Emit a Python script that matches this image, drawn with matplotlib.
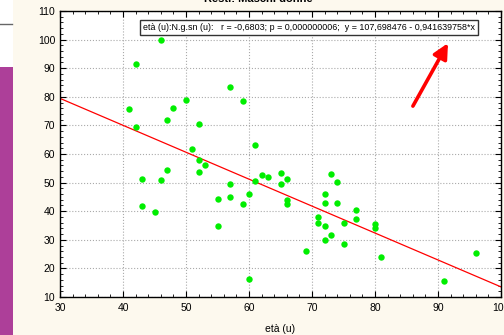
import matplotlib
matplotlib.use('Agg')
import matplotlib.pyplot as plt
from matplotlib.patches import Rectangle
from matplotlib.ticker import MultipleLocator
import numpy as np

plt.rcParams['font.family'] = ['Liberation Sans', 'DejaVu Sans']

# dati
eta = [41, 42, 42, 43, 43, 45, 46, 46, 47, 47, 48, 50, 51, 52, 52, 52, 53, 55, 55,
       57, 57, 57, 59, 59, 60, 60, 61, 61, 62, 63, 65, 65, 66, 66, 66, 69, 71, 71,
       72, 72, 72, 72, 73, 73, 74, 74, 75, 75, 77, 77, 80, 80, 81, 91, 96]
perc = [75.6, 91.6, 69.3, 51.3, 41.7, 39.6, 100.0, 50.9, 54.3, 71.9, 76.0, 79.0,
        61.6, 70.6, 57.9, 53.7, 56.3, 44.1, 34.7, 83.6, 49.4, 44.8, 78.7, 42.4,
        46.0, 16.3, 63.0, 50.5, 52.7, 52.0, 53.4, 49.4, 51.3, 43.8, 42.4, 26.0,
        38.1, 35.7, 46.0, 43.0, 34.7, 30.1, 53.0, 31.7, 50.3, 43.0, 36.0, 28.4,
        40.3, 37.3, 35.4, 34.0, 24.1, 15.7, 25.4]
intercetta = 107.698476
pendenza = -0.941639758
info = 'età (u):N.g.sn (u):   r = -0,6803; p = 0,000000006;  y = 107,698476 - 0,941639758*x'

fig = plt.figure(figsize=(5.04, 3.35), dpi=100)
fig.patch.set_facecolor('#fdf9ee')

# striscia a sinistra (resto dello screenshot)
fig.add_artist(Rectangle((0, 1 - 67/335), 13/504, 67/335, transform=fig.transFigure,
                         facecolor='white', edgecolor='none'))
fig.add_artist(Rectangle((0, 0), 13/504, 1 - 67/335, transform=fig.transFigure,
                         facecolor='#ad3f99', edgecolor='none'))
fig.add_artist(plt.Line2D([0, 12/504], [1 - 23.5/335, 1 - 23.5/335], transform=fig.transFigure,
                          color='#666666', lw=1))

ax = fig.add_axes([60/504, 1 - 297/335, 441/504, 286/335])
ax.set_facecolor('white')

xx = np.array([30, 100])
ax.plot(xx, intercetta + pendenza * xx, color='red', lw=0.9, zorder=2)
ax.plot(eta, perc, 'o', color='#00ee00', markersize=4.6, markeredgewidth=0, zorder=3)

ax.set_xlim(30, 100)
ax.set_ylim(10, 110)
ax.xaxis.set_major_locator(MultipleLocator(10))
ax.xaxis.set_minor_locator(MultipleLocator(2))
ax.yaxis.set_major_locator(MultipleLocator(10))
ax.yaxis.set_minor_locator(MultipleLocator(2))
ax.tick_params(which='both', direction='in', top=True, right=True, labelsize=7.5, colors='black')
ax.tick_params(which='major', length=4, width=0.8)
ax.tick_params(which='minor', length=2, width=0.6)
ax.tick_params(axis='x', pad=4)
ax.grid(True, which='major', ls=':', color='#aaaaaa', lw=0.8)
for s in ax.spines.values():
    s.set_linewidth(1)
ax.set_xlabel('età (u)', fontsize=7.5, labelpad=8)
ax.set_ylabel('%', fontsize=7.5, labelpad=18)

ax.text(0.565, 0.942, info, transform=ax.transAxes, ha='center', va='center', fontsize=6.4,
        bbox=dict(boxstyle='square,pad=0.35', facecolor='white', edgecolor='#333333', lw=1))

ax.annotate('', xy=(91.8, 99.6), xytext=(85.8, 75.9),
            arrowprops=dict(arrowstyle='-|>,head_length=0.9,head_width=0.45', color='red', lw=2.6))

# titolo tagliato in alto come nell'originale
fig.text(258/504, 1 + 6/335, 'Resti: Maschi donne', ha='center', va='top', fontsize=8,
         fontweight='bold')

fig.savefig('out.png', dpi=100, facecolor=fig.get_facecolor())
